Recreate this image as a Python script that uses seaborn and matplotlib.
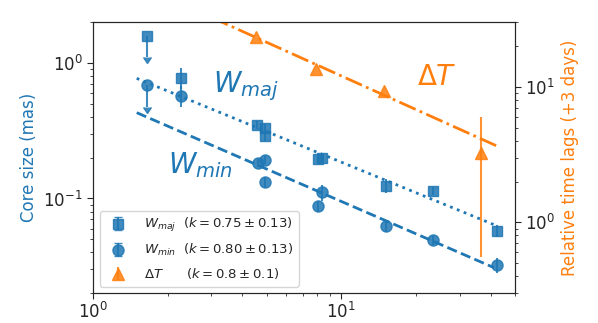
import matplotlib
matplotlib.use('Agg')
import matplotlib.pyplot as plt
import seaborn as sns

sns.set_style('ticks')
plt.rcParams['font.family'] = ['DejaVu Sans']
plt.rcParams['mathtext.fontset'] = 'dejavusans'

# --- datos ---
freq_maj = [1.65, 2.27, 4.58, 4.91, 4.94, 8.03, 8.39, 15.1, 23.4, 42.4]
w_maj = [1.57, 0.776, 0.348, 0.329, 0.290, 0.195, 0.199, 0.124, 0.114, 0.0579]
w_maj_err = [0.47, 0.14, 0.025, 0.025, 0.025, 0.012, 0.012, 0.014, 0.008, 0.006]
w_maj_lim = [True, False, False, False, False, False, False, False, False, False]

freq_min = [1.65, 2.27, 4.61, 4.94, 4.94, 8.37, 8.08, 15.1, 23.4, 42.4]
w_min = [0.685, 0.569, 0.182, 0.193, 0.133, 0.111, 0.0877, 0.0622, 0.0491, 0.0322]
w_min_err = [0.21, 0.10, 0.012, 0.012, 0.012, 0.015, 0.008, 0.006, 0.004, 0.004]
w_min_lim = [True, False, False, False, False, False, False, False, False, False]

freq_dt = [4.54, 7.91, 14.9, 36.4]
lag_dt = [23.2, 13.4, 9.28, 3.26]
lag_dt_err = [0.0, 0.0, 0.0, 2.7]

# rectas de ajuste (extremos)
fit_maj_x = [1.50, 41.2]
fit_maj_y = [0.768, 0.0641]
fit_min_x = [1.50, 41.2]
fit_min_y = [0.429, 0.0309]
fit_dt_x = [3.0, 43.4]
fit_dt_y = [32.4, 3.58]

labels = [r'$W_{maj}$  $(k = 0.75 \pm 0.13)$',
          r'$W_{min}$  $(k = 0.80 \pm 0.13)$',
          r'$\Delta T$      $(k = 0.8 \pm 0.1)$']

fig, ax = plt.subplots(figsize=(5.98, 3.23), dpi=100)
fig.subplots_adjust(left=0.1555, right=0.861, top=0.932, bottom=0.092)
ax2 = ax.twinx()

for a in (ax, ax2):
    a.set_xscale('log')
    a.set_yscale('log')

# Ajustes
sns.lineplot(x=fit_maj_x, y=fit_maj_y, ax=ax, color='C0', linestyle=':', lw=2)
sns.lineplot(x=fit_min_x, y=fit_min_y, ax=ax, color='C0', linestyle='--', lw=2)
sns.lineplot(x=fit_dt_x, y=fit_dt_y, ax=ax2, color='C1', linestyle='-.', lw=2)

# Datos con barras de error
h_maj = ax.errorbar(freq_maj, w_maj, yerr=w_maj_err, uplims=w_maj_lim, fmt='s',
                    color='C0', ms=7.5, elinewidth=1.5, alpha=0.85)
h_min = ax.errorbar(freq_min, w_min, yerr=w_min_err, uplims=w_min_lim, fmt='o',
                    color='C0', ms=8, elinewidth=1.5, alpha=0.85)
h_dt = ax2.errorbar(freq_dt, lag_dt, yerr=lag_dt_err, fmt='^',
                    color='C1', ms=8, elinewidth=1.5, alpha=0.85)

ax.set_xlim(1, 50)
ax.set_ylim(0.02, 2)
ax2.set_ylim(0.3, 30)

ax.set_ylabel('Core size (mas)', color='C0', fontsize=12)
ax2.set_ylabel('Relative time lags (+3 days)', color='C1', fontsize=12)

for a in (ax, ax2):
    a.tick_params(which='major', length=4, labelsize=12)
    a.tick_params(which='minor', length=2.5)
ax.tick_params(axis='x', which='major', pad=2.5)

ax.text(0.284, 0.765, r'$W_{maj}$', transform=ax.transAxes, color='C0',
        fontsize=20, va='center', ha='left')
ax.text(0.178, 0.474, r'$W_{min}$', transform=ax.transAxes, color='C0',
        fontsize=20, va='center', ha='left')
ax.text(0.767, 0.798, r'$\Delta T$', transform=ax.transAxes, color='C1',
        fontsize=20, va='center', ha='left')

ax2.legend([h_maj, h_min, h_dt], labels, loc='lower left', fontsize=9.5,
           labelspacing=0.6, handletextpad=1.0)

plt.savefig('out.png', dpi=100)
